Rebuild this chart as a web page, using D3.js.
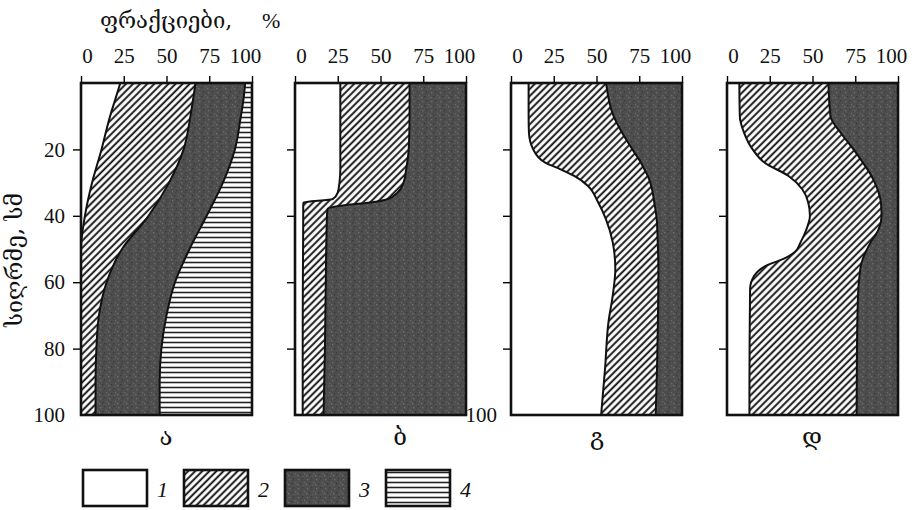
<!DOCTYPE html>
<html>
<head>
<meta charset="utf-8">
<script src="https://cdn.jsdelivr.net/npm/d3@7"></script>
<style>
  body { margin: 0; background: #fff; }
  text { font-family: 'Liberation Serif', 'DejaVu Serif', serif; fill: #111; }
  .geo { font-family: 'DejaVu Serif', 'DejaVu Sans', serif; }
</style>
</head>
<body>
<script>
// fractions (%), depth in cm
var depthA = [0, 5, 10, 20, 30, 40, 50, 60, 70, 80, 90, 100];
var fracA1 = [23, 20, 17, 12, 6.5, 2.3, 0, 0, 0, 0, 0, 0];
var fracA2 = [44, 45.5, 47, 48, 45, 37.2, 24, 15, 10.5, 9, 8.5, 8.5];
var fracA3 = [29, 29.5, 29.5, 30, 31.5, 34, 39.5, 40, 39.5, 38, 37.5, 37.5];
var fracA4 = [4, 5, 6.5, 10, 17, 26.5, 36.5, 45, 50, 53, 54, 54];

var depthB = [0, 10, 20, 26, 30, 33, 35, 36, 37, 38, 40, 60, 80, 100];
var fracB1 = [26.5, 26.5, 26.5, 26.5, 26, 25, 22, 5, 4.8, 4.8, 4.8, 4.6, 4.5, 4.5];
var fracB2 = [40.5, 40.5, 40, 38.5, 37.5, 35, 32, 39, 21.7, 14.2, 13.9, 13.4, 13, 12.2];
var fracB3 = [33, 33, 33.5, 35, 36.5, 40, 46, 56, 73.5, 81, 81.3, 82, 82.5, 83.3];

var depthC = [0, 10, 15, 20, 24, 26, 28, 31, 36, 41, 48, 56, 64, 72, 86, 100];
var fracC1 = [10.3, 10.3, 10.5, 13, 20, 29, 37, 45, 51, 55.5, 59.5, 61, 59.5, 57, 55, 52.7];
var fracC2 = [45.3, 49.7, 54.5, 58, 56, 49, 43, 37, 32.8, 29.7, 26.3, 25.2, 26.6, 28.9, 30.4, 31.9];
var fracC3 = [44.4, 40, 35, 29, 24, 22, 20, 18, 16.2, 14.8, 14.2, 13.8, 13.9, 14.1, 14.6, 15.4];

var depthD = [0, 10, 15, 20, 24, 28, 32, 36, 40, 44, 48, 51, 53, 55, 58, 62, 80, 100];
var fracD1 = [7.2, 7.5, 10, 15, 22, 36, 44, 47.5, 48.5, 46.5, 43, 39.5, 33, 23, 16, 13.5, 13.2, 13.1];
var fracD2 = [52.1, 53, 56.5, 59, 57.5, 48.5, 44, 42.5, 41.9, 42.2, 41, 41.5, 46.4, 55.3, 61.5, 63.3, 62.8, 62.7];
var fracD3 = [40.7, 39.5, 33.5, 26, 20.5, 15.5, 12, 10, 9.6, 11.3, 16, 19, 20.6, 21.7, 22.5, 23.2, 24, 24.2];

var panelLetters = ['ა', 'ბ', 'გ', 'დ'];
var pctTicks = [0, 25, 50, 75, 100];
var depthTicks = [20, 40, 60, 80, 100];
var legendLabels = ['1', '2', '3', '4'];

var panels = [
  { depth: depthA, fracs: [fracA1, fracA2, fracA3, fracA4] },
  { depth: depthB, fracs: [fracB1, fracB2, fracB3] },
  { depth: depthC, fracs: [fracC1, fracC2, fracC3] },
  { depth: depthD, fracs: [fracD1, fracD2, fracD3] }
];

var svg = d3.select('body').append('svg').attr('width', 921).attr('height', 510);

var panelX = [81, 295, 511, 727];
var letterX = [166, 400, 597, 812];
var panelW = 171;
var yTop = 83, yBot = 415;

var x = d3.scaleLinear().domain([0, 100]).range([0, panelW]);
var y = d3.scaleLinear().domain([0, 100]).range([yTop, yBot]);

// patterns
var defs = svg.append('defs');
var hatch = defs.append('pattern').attr('id', 'p2').attr('patternUnits', 'userSpaceOnUse')
  .attr('width', 5).attr('height', 5).attr('patternTransform', 'rotate(45)');
hatch.append('rect').attr('width', 5).attr('height', 5).attr('fill', '#fff');
hatch.append('line').attr('x1', 1.2).attr('x2', 1.2).attr('y1', 0).attr('y2', 5)
  .attr('stroke', '#111').attr('stroke-width', 1.9);

var dark = defs.append('pattern').attr('id', 'p3').attr('patternUnits', 'userSpaceOnUse')
  .attr('width', 9).attr('height', 9);
dark.append('rect').attr('width', 9).attr('height', 9).attr('fill', '#4e4e4e');
var specks = [[1, 2, '#6c6c6c'], [5, 1, '#3a3a3a'], [7, 5, '#686868'], [3, 6, '#383838'], [6, 8, '#5f5f5f'], [0, 7, '#727272'], [4, 3, '#454545']];
specks.forEach(function (s) {
  dark.append('rect').attr('x', s[0]).attr('y', s[1]).attr('width', 1.3).attr('height', 1.3).attr('fill', s[2]);
});

var hl = defs.append('pattern').attr('id', 'p4').attr('patternUnits', 'userSpaceOnUse')
  .attr('width', 6).attr('height', 5);
hl.append('rect').attr('width', 6).attr('height', 5).attr('fill', '#fff');
hl.append('line').attr('x1', 0).attr('x2', 6).attr('y1', 2.5).attr('y2', 2.5)
  .attr('stroke', '#222').attr('stroke-width', 1.6);

var fills = ['#fff', 'url(#p2)', 'url(#p3)', 'url(#p4)'];

// title
svg.append('text').attr('class', 'geo').attr('x', 100).attr('y', 28)
  .attr('font-size', 22).text('ფრაქციები,');
svg.append('text').attr('x', 262).attr('y', 28).attr('font-size', 22).text('%');

svg.append('text').attr('class', 'geo')
  .attr('transform', 'translate(22,260) rotate(-90)')
  .attr('text-anchor', 'middle').attr('font-size', 23).text('სიღრმე, სმ');

// axes first, panels drawn over them
panels.forEach(function (p, i) {
  var g = svg.append('g').attr('transform', 'translate(' + panelX[i] + ',0)');

  var ax = g.append('g').attr('transform', 'translate(0,' + yTop + ')')
    .call(d3.axisTop(x).tickValues(pctTicks).tickSize(7).tickPadding(13).tickSizeOuter(0));
  ax.select('.domain').remove();
  ax.selectAll('text').attr('font-size', 21).attr('font-family', 'Liberation Serif')
    .attr('dx', function (d) { return d === 0 ? 6 : d === 100 ? -7 : 0; });

  var ay = g.append('g')
    .call(d3.axisLeft(y).tickValues(depthTicks).tickSize(8).tickPadding(i === 2 ? 6 : 8).tickSizeOuter(0)
      .tickFormat(function (d) {
        if (i === 0) return d;
        if (i === 2 && d === 100) return d;
        return '';
      }));
  ay.select('.domain').remove();
  ay.selectAll('text').attr('font-size', 21).attr('font-family', 'Liberation Serif');
  ay.selectAll('.tick').filter(function (d) { return d === 100; }).select('line').remove();
  ax.selectAll('line').attr('stroke-width', 1.4);
  ay.selectAll('line').attr('stroke-width', 1.4);
});

panels.forEach(function (p, i) {
  var g = svg.append('g').attr('transform', 'translate(' + panelX[i] + ',0)');
  var keys = p.fracs.map(function (f, k) { return 'f' + k; });
  var rows = p.depth.map(function (d, j) {
    var r = { depth: d };
    p.fracs.forEach(function (f, k) { r['f' + k] = f[j]; });
    return r;
  });
  var series = d3.stack().keys(keys)(rows);

  var area = d3.area().curve(d3.curveMonotoneY)
    .y(function (d) { return y(d.data.depth); })
    .x0(function (d) { return x(d[0]); })
    .x1(function (d) { return x(d[1]); });
  var line = d3.line().curve(d3.curveMonotoneY)
    .y(function (d) { return y(d.data.depth); })
    .x(function (d) { return x(d[1]); });

  g.selectAll('path.layer').data(series).enter().append('path')
    .attr('class', 'layer')
    .attr('d', area)
    .attr('fill', function (s, k) { return fills[k]; });

  g.selectAll('path.edge').data(series.slice(0, series.length - 1)).enter().append('path')
    .attr('class', 'edge')
    .attr('d', line)
    .attr('fill', 'none').attr('stroke', '#111').attr('stroke-width', 2);

  g.append('rect').attr('x', 0).attr('y', yTop).attr('width', panelW).attr('height', yBot - yTop)
    .attr('fill', 'none').attr('stroke', '#111').attr('stroke-width', 2.6);

  svg.append('text').attr('class', 'geo').attr('x', letterX[i]).attr('y', 445)
    .attr('text-anchor', 'middle').attr('font-size', 24).text(panelLetters[i]);
});

// legend
var legX = [83, 184, 285, 386];
legendLabels.forEach(function (l, k) {
  svg.append('rect').attr('x', legX[k]).attr('y', 470).attr('width', 64).attr('height', 36)
    .attr('fill', fills[k]).attr('stroke', '#111').attr('stroke-width', 2.6);
  svg.append('text').attr('x', legX[k] + 74).attr('y', 497)
    .attr('font-size', 22).attr('font-style', 'italic').text(l);
});
</script>
</body>
</html>
